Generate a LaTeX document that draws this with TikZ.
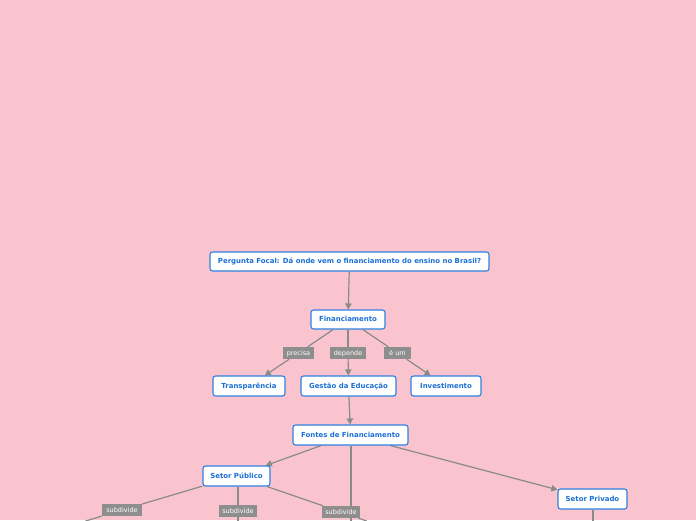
\documentclass[tikz,border=0pt]{standalone}
\usepackage{fontspec}
\setmainfont{DejaVu Sans}
\usetikzlibrary{arrows.meta,backgrounds}
\definecolor{bg}{HTML}{F9C4CE}
\definecolor{nodeblue}{HTML}{2F80E0}
\definecolor{textblue}{HTML}{1A6FD6}
\definecolor{labgray}{HTML}{8E8E8E}
\definecolor{linegray}{HTML}{8A8A8A}
\tikzset{
  concept/.style={draw=nodeblue, line width=1.1pt, fill=white, rounded corners=2.5pt,
    text=textblue, font=\fontsize{6.95}{8}\selectfont\bfseries, inner sep=0pt,
    text height=5.6pt, text depth=1.2pt, minimum height=19pt},
  linklab/.style={fill=labgray, text=white, font=\fontsize{6.5}{7}\selectfont,
    inner sep=0pt, text height=5.2pt, text depth=1.2pt, minimum height=12pt},
  conn/.style={draw=linegray, line width=1.2pt},
  arr/.style={conn, -{Triangle[length=6pt,width=6.5pt]}},
}
\begin{document}
\begin{tikzpicture}[x=1pt,y=-1pt]
\useasboundingbox (0,0) rectangle (696,520);

% concept nodes
\node[concept, minimum width=279pt] (pf) at (349.5,261.5) {Pergunta Focal: Dá onde vem o financiamento do ensino no Brasil?};
\node[concept, minimum width=74pt] (fin) at (348,319.5) {Financiamento};
\node[concept, minimum width=72pt, minimum height=20pt] (tr) at (249,386) {Transparência};
\node[concept, minimum width=95pt, minimum height=20pt] (ge) at (348.5,386) {Gestão da Educação};
\node[concept, minimum width=70pt, minimum height=20pt] (inv) at (446,386) {Investimento};
\node[concept, minimum width=115pt, minimum height=20pt] (ff) at (350.5,435) {Fontes de Financiamento};
\node[concept, minimum width=67pt, minimum height=20pt] (sp) at (236.5,476) {Setor Público};
\node[concept, minimum width=69pt, minimum height=20pt] (spr) at (592.5,499) {Setor Privado};

% link labels
\node[linklab, minimum width=31pt] (l1) at (298.5,353) {precisa};
\node[linklab, minimum width=36pt] (l2) at (348,353) {depende};
\node[linklab, minimum width=27pt] (l3) at (397.5,353) {é um};
\node[linklab, minimum width=40pt] (s1) at (122,510) {subdivide};
\node[linklab, minimum width=38pt] (s2) at (238,511) {subdivide};
\node[linklab, minimum width=38pt] (s3) at (341,512) {subdivide};

% free ends below the picture
\coordinate (e1) at (85.5,521);
\coordinate (e2) at (238,521);
\coordinate (e3) at (366.6,521);
\coordinate (e4) at (351,521);
\coordinate (e5) at (593,521);

% connectors
\begin{scope}[on background layer]
\fill[bg] (0,0) rectangle (696,520);
\draw[arr] (pf) -- (fin);
\draw[conn] (fin) -- (l1); \draw[arr] (l1) -- (tr);
\draw[conn] (fin) -- (l2); \draw[arr] (l2) -- (ge);
\draw[conn] (fin) -- (l3); \draw[arr] (l3) -- (inv);
\draw[arr] (ge) -- (ff);
\draw[arr] (ff) -- (sp);
\draw[arr] (ff) -- (spr);
\draw[conn] (ff.south -| e4) -- (e4);
\draw[conn] (spr.south -| e5) -- (e5);
\draw[conn] (sp) -- (s1) -- (e1);
\draw[conn] (sp.south -| s2) -- (s2) -- (e2);
\draw[conn] (sp) -- (s3) -- (e3);
\end{scope}
\end{tikzpicture}
\end{document}
